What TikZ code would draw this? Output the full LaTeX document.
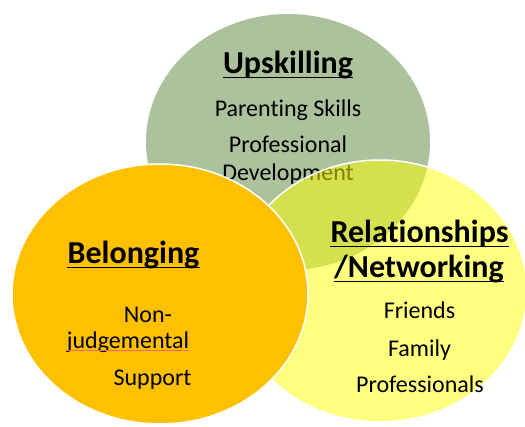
\documentclass[tikz,border=0pt]{standalone}
\usepackage{fontspec}
\setmainfont{Carlito}[Ligatures=NoCommon]
\usepackage{tikz}
\usetikzlibrary{positioning}
\definecolor{upgreen}{RGB}{171,194,157}
\definecolor{belorange}{RGB}{255,192,0}
\definecolor{relyellow}{RGB}{255,255,0}

\begin{document}
\begin{tikzpicture}[
    x=1pt, y=-1pt,
    head/.style={inner sep=0pt, anchor=base, font=\fontsize{32}{36}\selectfont\bfseries},
    item/.style={inner sep=0pt, anchor=base, font=\fontsize{24}{28}\selectfont},
    uline/.style={line width=1.8pt}
]
    \useasboundingbox (0,0) rectangle (525,426);

    % Upskilling
    \fill[upgreen] (288,142) ellipse [x radius=142pt, y radius=128pt];
    \node[head] (up) at (288,73) {Upskilling};
    \node[item] (up1) at (288,116) {Parenting Skills};
    \node[item] (up2) at (288,152) {Professional};
    \node[item] (up3) at (288,180) {Development};
    \draw[uline] ([yshift=-4.5pt]up.base west) -- ([yshift=-4.5pt]up.base east);

    % Relationships / Networking
    \filldraw[fill=relyellow, fill opacity=0.5, draw=white, line width=1.5pt]
        (380,291) ellipse [x radius=147pt, y radius=131pt];
    \node[head] (rel) at (419.5,242) {Relationships};
    \node[head] (net) at (419,277) {/Networking};
    \node[item] (rel1) at (419.5,318) {Friends};
    \node[item] (rel2) at (419.5,356) {Family};
    \node[item] (rel3) at (420,392) {Professionals};
    \draw[uline] ([yshift=-4.5pt]rel.base west) -- ([yshift=-4.5pt]rel.base east);
    \draw[uline] ([yshift=-4.5pt]net.base west) -- ([yshift=-4.5pt]net.base east);

    % Belonging
    \filldraw[fill=belorange, draw=white, line width=1.5pt]
        (160,294) ellipse [x radius=148pt, y radius=130pt];
    \node[head] (bel) at (133.5,263) {Belonging};
    \node[item] (bel1) at (148,322) {Non-};
    \node[item] (bel2) at (128,348) {judgemental};
    \node[item] (bel3) at (152.5,385) {Support};
    \draw[uline] ([yshift=-4.5pt]bel.base west) -- ([yshift=-4.5pt]bel.base east);
    \draw[red!60, line width=0.5pt] ([yshift=-2.5pt]bel2.base west) -- ([yshift=-2.5pt]bel2.base east);
\end{tikzpicture}
\end{document}
